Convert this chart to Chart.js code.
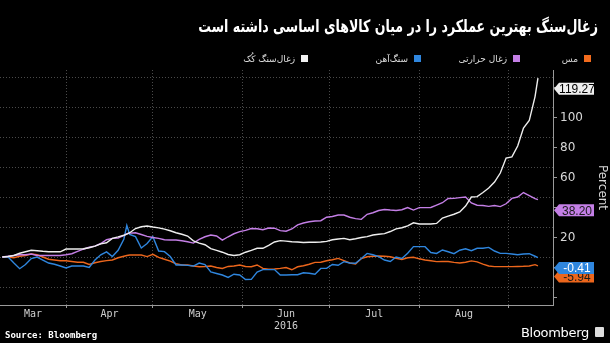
<!DOCTYPE html>
<html>
<head>
<meta charset="utf-8">
<script src="https://cdn.jsdelivr.net/npm/chart.js@4.4.0/dist/chart.umd.min.js"></script>
<style>
  html, body { margin: 0; padding: 0; background: #000; }
  #wrap { position: relative; width: 610px; height: 343px; overflow: hidden; background: #000; }
  #wrap canvas { position: absolute; left: 0; top: 0; }
  .title { position: absolute; right: 12px; top: 16px; color: #fff; font: bold 17px "DejaVu Sans"; direction: rtl; white-space: nowrap; transform: scaleX(0.74); transform-origin: right center; }
  .leg { position: absolute; top: 53px; color: #ddd; font: 9px "DejaVu Sans"; direction: rtl; white-space: nowrap; line-height: 12px; }
  .leg i { display: inline-block; width: 7px; height: 7px; margin-left: 6px; vertical-align: 0; }
  .src { position: absolute; left: 5px; top: 330px; color: #fff; font: bold 9px "DejaVu Sans Mono"; }
  .logo { position: absolute; right: 21px; top: 325px; color: #fff; font: 13px "DejaVu Sans"; letter-spacing: -0.3px; }
  .logo-icon { position: absolute; right: 6px; top: 327px; width: 9px; height: 10px; background: #ddd; border-radius: 1px; }
</style>
</head>
<body>
<div id="wrap">
  <canvas id="chart" width="610" height="343"></canvas>
  <div class="title">زغال‌سنگ بهترین عملکرد را در میان کالاهای اساسی داشته است</div>
  <div class="leg" style="right:19px"><i style="background:#f26b1d"></i>مس</div>
  <div class="leg" style="right:90px"><i style="background:#c47fe6"></i>زغال حرارتی</div>
  <div class="leg" style="right:189px"><i style="background:#2f86de"></i>سنگ‌آهن</div>
  <div class="leg" style="right:302px"><i style="background:#f2f2f2"></i>زغال‌سنگ کُک</div>
  <div class="src">Source: Bloomberg</div>
  <div class="logo">Bloomberg</div>
  <div class="logo-icon"></div>
</div>
<script>
// percent change since start of March, 2016
const dates = [
  '2016-03-10','2016-03-12','2016-03-14','2016-03-16','2016-03-18','2016-03-20','2016-03-22','2016-03-24','2016-03-26','2016-03-28',
  '2016-03-30','2016-04-01','2016-04-03','2016-04-05','2016-04-07','2016-04-09','2016-04-11','2016-04-13','2016-04-15','2016-04-17',
  '2016-04-19','2016-04-21','2016-04-22','2016-04-23','2016-04-25','2016-04-27','2016-04-29','2016-05-01','2016-05-03','2016-05-05',
  '2016-05-07','2016-05-09','2016-05-11','2016-05-13','2016-05-15','2016-05-17','2016-05-19','2016-05-21','2016-05-23','2016-05-25',
  '2016-05-27','2016-05-29','2016-05-31','2016-06-02','2016-06-04','2016-06-06','2016-06-08','2016-06-10','2016-06-12','2016-06-14',
  '2016-06-16','2016-06-18','2016-06-20','2016-06-22','2016-06-24','2016-06-26','2016-06-28','2016-06-30','2016-07-02','2016-07-04',
  '2016-07-06','2016-07-08','2016-07-10','2016-07-12','2016-07-14','2016-07-16','2016-07-18','2016-07-20','2016-07-22','2016-07-24',
  '2016-07-26','2016-07-28','2016-07-30','2016-08-01','2016-08-03','2016-08-05','2016-08-07','2016-08-09','2016-08-11','2016-08-13',
  '2016-08-15','2016-08-17','2016-08-19','2016-08-21','2016-08-23','2016-08-25','2016-08-27','2016-08-29','2016-08-31','2016-09-02',
  '2016-09-04','2016-09-06','2016-09-08','2016-09-10','2016-09-11'
];

const cokingCoal = [
  0, 0.3, 1, 2.5, 3.5, 4.5, 4.2, 3.8, 3.5, 3.5,
  3.5, 5.3, 5.3, 5.3, 5.5, 6.2, 7.3, 8.8, 9.5, 12.4,
  13.4, 14.5, 15.2, 16.2, 19, 20.2, 20.7, 20, 19.4, 18.6,
  17.5, 16.2, 15.2, 14, 10.8, 9.3, 8.2, 5.6, 4.4, 3.2,
  1.7, 1.0, 1.5, 3.2, 4.4, 5.8, 5.8, 7.8, 10, 10.9,
  10.6, 10.2, 10, 9.7, 9.8, 9.8, 10, 10.4, 11.5, 12,
  12.4, 11.5, 12.2, 13, 13.6, 14.7, 15.2, 15.6, 17, 18.8,
  19.5, 20.8, 22.8, 22, 22, 22, 22.4, 26, 27.3, 28.5,
  30, 34, 40, 40.3, 43, 46, 50, 56, 66, 66.8,
  74, 86, 91, 107, 119.27
];

const thermalCoal = [
  0, 0.5, 1, 1.5, 1.5, 2, 1, 1, 1, 1,
  1, 1.5, 2.2, 3.8, 5.2, 6.5, 7.3, 9, 11.5, 12.4,
  12.6, 14.5, 15.5, 15.9, 16.2, 15, 13.8, 13, 12.4, 11.5,
  11.3, 11.3, 10.8, 10.2, 9.3, 11.8, 13.5, 14.7, 14, 11.3,
  13.5, 15.5, 16.9, 17.8, 19, 18.8, 18.2, 19.3, 19.2, 17.6,
  17.2, 18.7, 21.4, 22.7, 23.5, 24, 24.2, 26.5, 27, 28,
  28, 26.5, 25.6, 25.1, 28.5, 29.5, 31, 31.7, 31.3, 31,
  31.5, 33, 31.3, 32.9, 32.9, 33, 34.6, 36.2, 39, 39.1,
  39.6, 40, 36, 34.5, 34.3, 33.8, 34.3, 33.6, 35.5, 39.1,
  40, 43, 41, 39, 38.20
];

const ironOre = [
  0, 0, -4, -7.8, -5, -1, 0, -2, -4, -4.8,
  -6, -7.3, -6, -6, -6, -7, -2, 1.5, 3.4, 0.3,
  4.5, 12, 21, 15, 13.6, 6, 9, 13.6, 4, 3.6,
  0.3, -5.3, -5.3, -5.6, -6, -4, -5, -10, -11, -12,
  -13.6, -11.5, -12, -15, -14.9, -10, -8.4, -8.4, -8.4, -12,
  -12, -11.8, -11.8, -10.5, -10.8, -11.5, -7.6, -7.6, -5, -5.5,
  -3.1, -4, -4.2, -1, 2.4, 1.5, 0.2, -2, -3, 0,
  -1, 2.5, 6.9, 6.9, 6.9, 3, 2.4, 4.7, 3.5, 2.2,
  4.5, 5.5, 4.2, 5.8, 5.8, 6.4, 4, 2.4, 2.4, 2,
  1.5, 2, 2.2, 0.5, -0.41
];

const copper = [
  0, 0, -0.5, 0.5, 1, 2, 1.5, 0, -1.5, -2,
  -2.5, -2.5, -3, -3.5, -3.5, -5, -3.8, -3, -2.4, -2,
  -0.5, 0.5, 1, 1.3, 1.3, 1.3, 0.3, 1.8, -0.3, -1.5,
  -2.7, -4.5, -5.3, -5.3, -6, -6.5, -6.3, -6, -7, -7.6,
  -6.3, -6, -5.3, -6.3, -6.5, -5.3, -7.6, -8.2, -8, -7.6,
  -7, -8.5, -6.5, -5.8, -4.8, -3.6, -3.5, -2.5, -1.8, -0.9,
  -2.4, -4, -4.7, -1, 0.2, 0.5, 0.7, 0.5, 0.2, -0.8,
  -1.6, -0.5, -0.2, -1.2, -2, -2.5, -3.1, -3, -3, -3.6,
  -4, -3.5, -2.6, -3.2, -4.7, -6, -6.4, -6.4, -6.4, -6.4,
  -6.3, -6.2, -6, -5.1, -5.94
];

const monthNames = ['Mar', 'Apr', 'May', ['Jun', '2016'], 'Jul', 'Aug'];
const monthStarts = ['2016-04-01', '2016-05-01', '2016-06-01', '2016-07-01', '2016-08-01', '2016-09-01'];
const yTicks = [-20, 0, 20, 40, 60, 80, 100, 120];
const yTickLabels = [20, 60, 80, 100];

// x values are days counted from 1 March
const DAY = 86400000;
const origin = Date.parse('2016-03-01');
const dayOf = (s) => (Date.parse(s) - origin) / DAY;

const xMin = 8.2, xMax = 199.2;
const edges = monthStarts.map(dayOf);
const spans = [xMin, ...edges];
const mids = monthNames.map((n, i) => ({ value: (spans[i] + spans[i + 1]) / 2, name: n }));

const series = [
  { label: 'زغال‌سنگ کُک', data: cokingCoal, color: '#eeeeee', text: '#000' },
  { label: 'زغال حرارتی', data: thermalCoal, color: '#c47fe6', text: '#1a1a1a' },
  { label: 'سنگ‌آهن', data: ironOre, color: '#2f86de', text: '#fff' },
  { label: 'مس', data: copper, color: '#ec661c', text: '#1a1a1a' },
];

// value boxes on the right axis, copper first so iron ore sits over it
const lastValueTags = {
  id: 'lastValueTags',
  afterDraw(chart) {
    const { ctx, chartArea } = chart;
    const yr = chart.scales.yr;
    const x0 = chartArea.right + 1;
    [3, 2, 1, 0].forEach((k) => {
      const s = series[k];
      const v = s.data[s.data.length - 1];
      const y = yr.getPixelForValue(v);
      const h = 12;
      ctx.save();
      ctx.fillStyle = s.color;
      ctx.beginPath();
      ctx.moveTo(x0, y);
      ctx.lineTo(x0 + 5, y - h / 2);
      ctx.lineTo(x0 + 40, y - h / 2);
      ctx.lineTo(x0 + 40, y + h / 2);
      ctx.lineTo(x0 + 5, y + h / 2);
      ctx.closePath();
      ctx.fill();
      ctx.fillStyle = s.text;
      ctx.font = '12px "Liberation Sans"';
      ctx.textAlign = 'center';
      ctx.textBaseline = 'middle';
      ctx.fillText(v.toFixed(2), x0 + 23, y + 1);
      ctx.restore();
    });
  }
};

const ctx = document.getElementById('chart').getContext('2d');
new Chart(ctx, {
  type: 'line',
  data: {
    datasets: series.map((s) => ({
      label: s.label,
      data: dates.map((d, i) => ({ x: dayOf(d), y: s.data[i] })),
      borderColor: s.color,
      borderWidth: 1.4,
      pointRadius: 0,
      tension: 0,
      yAxisID: 'y',
    })),
  },
  options: {
    responsive: false,
    animation: false,
    layout: { padding: { top: 70, left: 0, right: 0, bottom: 8 } },
    plugins: { legend: { display: false }, tooltip: { enabled: false } },
    scales: {
      x: {
        type: 'linear',
        min: xMin,
        max: xMax,
        afterBuildTicks: (s) => {
          s.ticks = [...edges.map((v) => ({ value: v, edge: true })), ...mids.map((m) => ({ value: m.value, name: m.name }))];
        },
        afterFit: (s) => { s.height = 30; },
        ticks: {
          autoSkip: false,
          maxRotation: 0,
          padding: 0,
          color: '#cfcfcf',
          font: { family: 'DejaVu Sans Mono', size: 10 },
          callback: (v, i, t) => t[i].name || '',
        },
        grid: {
          color: (c) => (c.tick && c.tick.edge ? '#4a4a4a' : 'rgba(0,0,0,0)'),
          tickColor: (c) => (c.tick && c.tick.edge ? '#9a9a9a' : 'rgba(0,0,0,0)'),
          tickLength: 3,
          lineWidth: 1,
        },
        border: { color: '#9a9a9a', dash: [1, 2] },
      },
      y: {
        position: 'left',
        min: -32,
        max: 124.7,
        afterBuildTicks: (s) => { s.ticks = yTicks.map((v) => ({ value: v })); },
        afterFit: (s) => { s.width = 0; },
        ticks: { display: false },
        grid: { color: '#4a4a4a', drawTicks: false },
        border: { display: false, dash: [1, 2] },
      },
      yr: {
        position: 'right',
        min: -25,
        max: 131.7,
        afterBuildTicks: (s) => { s.ticks = yTicks.map((v) => ({ value: v })); },
        afterFit: (s) => { s.width = 57; },
        ticks: {
          color: '#d8d8d8',
          padding: 3,
          font: { family: 'DejaVu Sans', size: 12 },
          callback: (v) => (yTickLabels.includes(v) ? String(v) : ''),
        },
        grid: { drawOnChartArea: false, tickLength: 4, tickColor: '#9a9a9a' },
        border: { color: '#9a9a9a' },
        title: {
          display: true,
          text: 'Percent',
          color: '#d8d8d8',
          padding: { top: 1, bottom: 0 },
          font: { family: 'DejaVu Sans', size: 12 },
        },
      },
    },
  },
  plugins: [lastValueTags],
});
</script>
</body>
</html>
